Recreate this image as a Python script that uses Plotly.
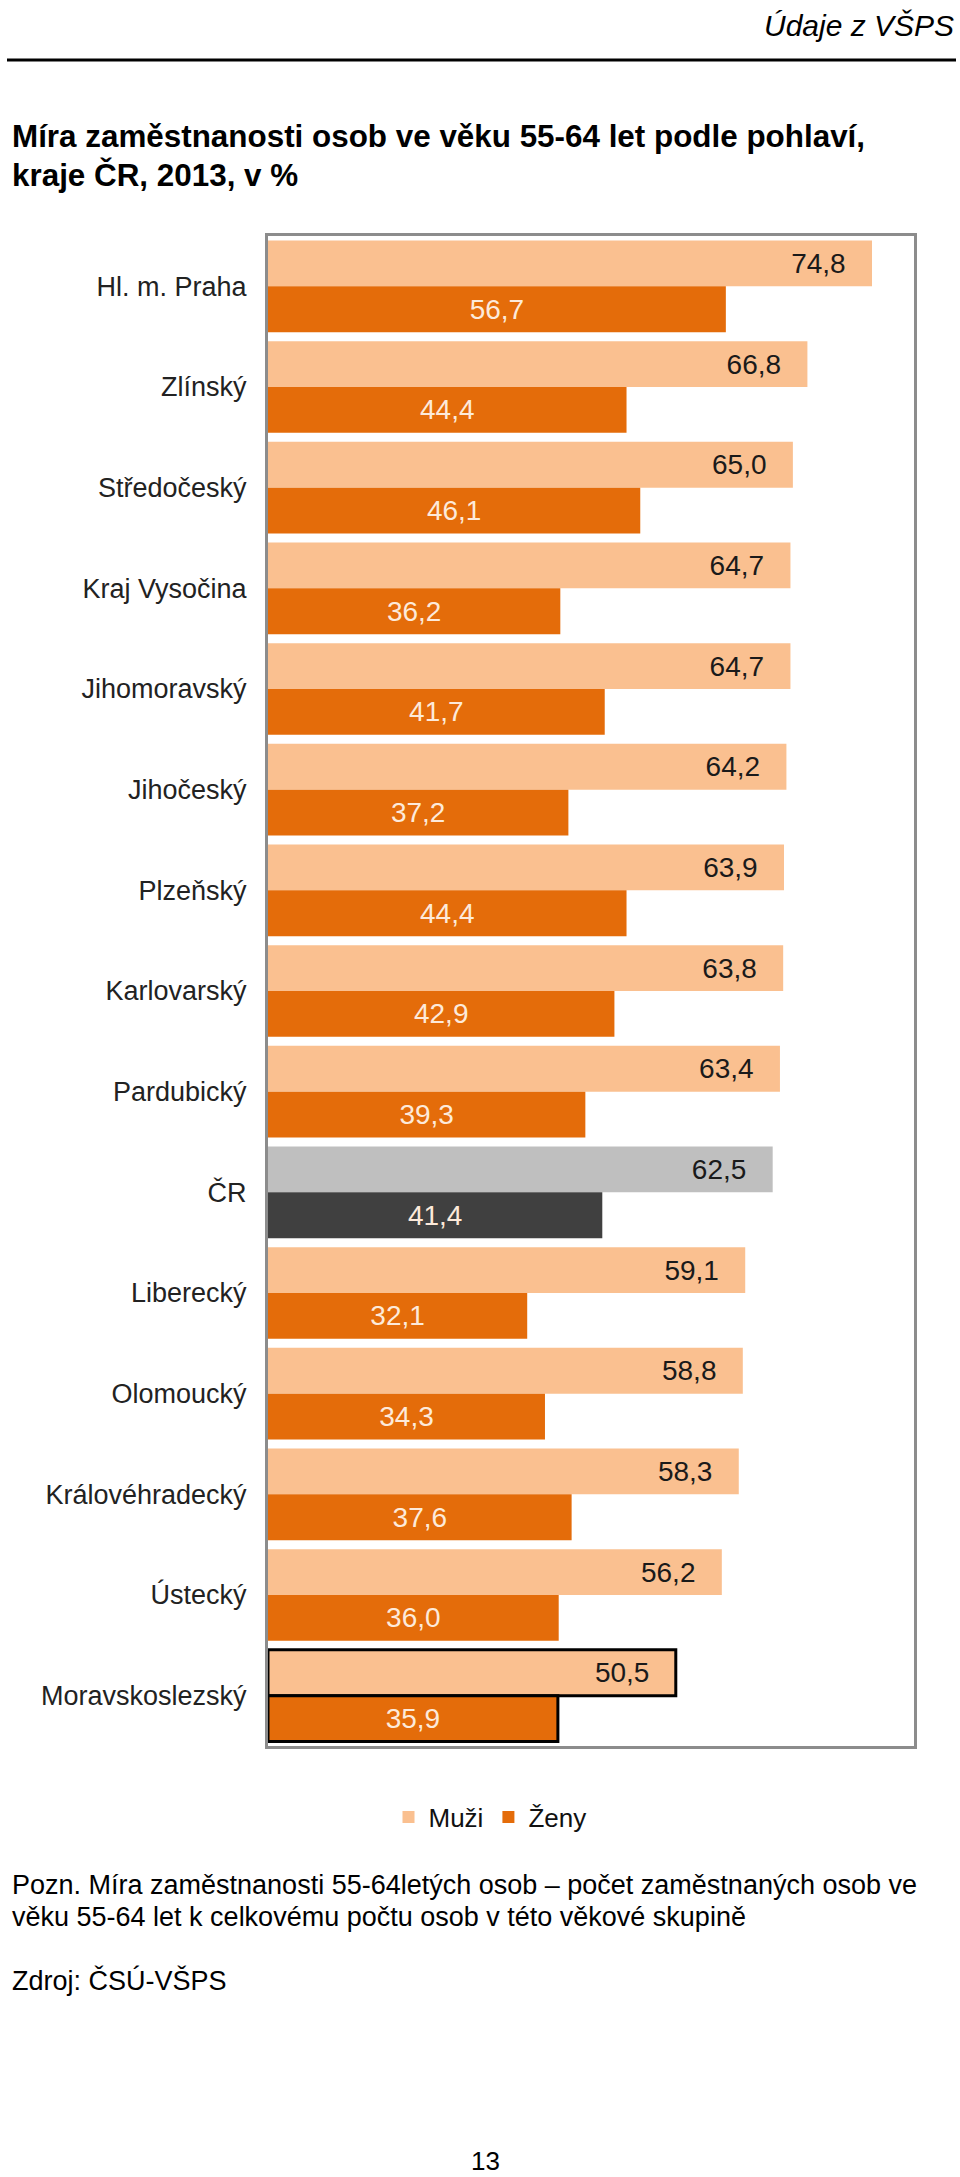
import plotly.graph_objects as go

categories = ["Hl. m. Praha", "Zlínský", "Středočeský", "Kraj Vysočina", "Jihomoravský",
              "Jihočeský", "Plzeňský", "Karlovarský", "Pardubický", "ČR", "Liberecký",
              "Olomoucký", "Královéhradecký", "Ústecký", "Moravskoslezský"]
muzi = [74.8, 66.8, 65.0, 64.7, 64.7, 64.2, 63.9, 63.8, 63.4, 62.5, 59.1, 58.8, 58.3, 56.2, 50.5]
zeny = [56.7, 44.4, 46.1, 36.2, 41.7, 37.2, 44.4, 42.9, 39.3, 41.4, 32.1, 34.3, 37.6, 36.0, 35.9]

W, H = 960, 2177
L, R, T, B = 268, 914, 236, 1746
FONT_R = "Liberation Sans, Arial, sans-serif"

C_M = "#FAC090"
C_Z = "#E46C0A"
c_m = ["#BFBFBF" if c == "ČR" else C_M for c in categories]
c_z = ["#404040" if c == "ČR" else C_Z for c in categories]
lw = [3 if c == "Moravskoslezský" else 0 for c in categories]

def fmt(v):
    return f"{v:.1f}".replace(".", ",")

NB = "\u00a0"
fig = go.Figure()
fig.add_trace(go.Bar(
    y=categories, x=muzi, orientation="h", name="Muži",
    marker=dict(color=c_m, line=dict(color="#000000", width=lw)),
    text=[fmt(v) + NB * 3 for v in muzi], textposition="inside", insidetextanchor="end",
    textangle=0, constraintext="none",
    textfont=dict(family=FONT_R, size=28, color="#1a1a1a"),
    hoverinfo="skip"))
fig.add_trace(go.Bar(
    y=categories, x=zeny, orientation="h", name="Ženy",
    marker=dict(color=c_z, line=dict(color="#000000", width=lw)),
    text=[fmt(v) for v in zeny], textposition="inside", insidetextanchor="middle",
    textangle=0, constraintext="none",
    textfont=dict(family=FONT_R, size=28, color="#FDEADA"),
    hoverinfo="skip"))

def px(x):
    return (x - L) / (R - L)

def py(y):
    return (B - y) / (B - T)

ann = []
ann.append(dict(text="<i>Údaje z VŠPS</i>", x=px(956), y=py(26), xanchor="right", yanchor="middle",
                font=dict(family=FONT_R, size=30, color="#000")))
ann.append(dict(text="<b>Míra zaměstnanosti osob ve věku 55-64 let podle pohlaví,</b>", x=px(10), y=py(136),
                xanchor="left", yanchor="middle", font=dict(family=FONT_R, size=31.4, color="#000")))
ann.append(dict(text="<b>kraje ČR, 2013, v %</b>", x=px(10), y=py(175),
                xanchor="left", yanchor="middle", font=dict(family=FONT_R, size=31.4, color="#000")))
ann.append(dict(text="Pozn. Míra zaměstnanosti 55-64letých osob – počet zaměstnaných osob ve", x=px(10), y=py(1885),
                xanchor="left", yanchor="middle", font=dict(family=FONT_R, size=27, color="#000")))
ann.append(dict(text="věku 55-64 let k celkovému počtu osob v této věkové skupině", x=px(10), y=py(1917),
                xanchor="left", yanchor="middle", font=dict(family=FONT_R, size=27, color="#000")))
ann.append(dict(text="Zdroj: ČSÚ-VŠPS", x=px(10), y=py(1980),
                xanchor="left", yanchor="middle", font=dict(family=FONT_R, size=27, color="#000")))
ann.append(dict(text="13", x=px(485), y=py(2161),
                xanchor="center", yanchor="middle", font=dict(family=FONT_R, size=26, color="#000")))
for a in ann:
    a.update(xref="paper", yref="paper", showarrow=False)

fig.update_layout(
    width=W, height=H,
    margin=dict(l=L, r=W - R, t=T, b=H - B, pad=0),
    paper_bgcolor="white", plot_bgcolor="white",
    barmode="group", bargap=0.09, bargroupgap=0,
    font=dict(family=FONT_R, size=26, color="#222"),
    xaxis=dict(range=[0, 80], showticklabels=False, showgrid=False, zeroline=False, ticks="",
               showline=True, mirror=True, linecolor="#8C8C8C", linewidth=3, fixedrange=True),
    yaxis=dict(autorange="reversed", showgrid=False, ticks="", ticklabelstandoff=13,
               showline=True, mirror=True, linecolor="#8C8C8C", linewidth=3,
               tickfont=dict(family=FONT_R, size=27, color="#222")),
    legend=dict(orientation="h", x=px(490), y=py(1817), xanchor="center", yanchor="middle",
                font=dict(family=FONT_R, size=26, color="#111"), itemwidth=30,
                traceorder="normal", bgcolor="rgba(0,0,0,0)"),
    annotations=ann,
    shapes=[dict(type="line", xref="paper", yref="paper", x0=px(7), x1=px(956), y0=py(60), y1=py(60),
                 line=dict(color="#000", width=3))],
    showlegend=True,
)
fig.write_html("out.html", config={"displayModeBar": False},
               post_script="document.body.style.margin='0';document.body.style.overflow='hidden';")
